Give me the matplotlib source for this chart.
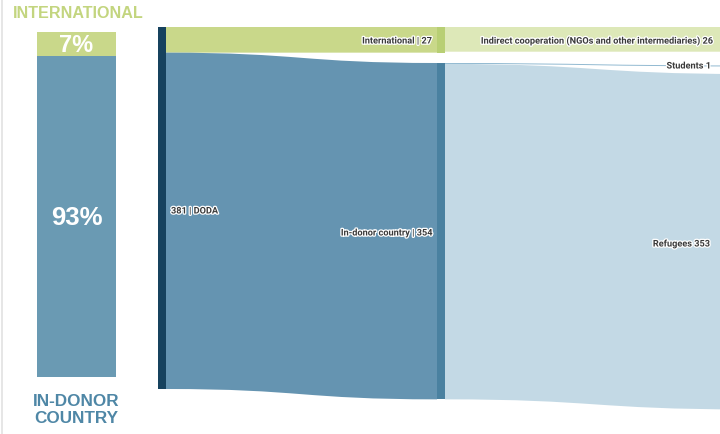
import matplotlib
matplotlib.use('Agg')
import matplotlib.pyplot as plt
from matplotlib.path import Path
from matplotlib.patches import PathPatch, Rectangle
import matplotlib.patheffects as pe

# left summary bar
share_labels = ['INTERNATIONAL', 'IN-DONOR\nCOUNTRY']
share_pct = [7, 93]

# sankey data
source_name = 'DODA'
source_total = 381
mid_names = ['International', 'In-donor country']
mid_values = [27, 354]
end_names = ['Indirect cooperation (NGOs and other intermediaries)', 'Students', 'Refugees']
end_values = [26, 1, 353]
end_parent = [0, 1, 1]

GREEN = '#c9d88a'
BLUE = '#6a9ab3'

fig = plt.figure(figsize=(7.2, 4.34), dpi=100)
ax = fig.add_axes([0, 0, 1, 1])
ax.set_xlim(0, 720)
ax.set_ylim(434, 0)
ax.axis('off')

# thin frame line on the left
ax.plot([2, 2], [0, 434], color='#e2e2e2', lw=1.2)

# ---- left stacked bar ----
bar_x, bar_w, bar_top, bar_h = 37, 79, 32, 345
y = bar_top
bar_colors = [GREEN, BLUE]
for pct, col in zip(share_pct, bar_colors):
    h = bar_h * pct / 100
    ax.add_patch(Rectangle((bar_x, y), bar_w, h, color=col, lw=0))
    ax.text(bar_x + bar_w / 2, y + h / 2 + 1, f'{pct}%', ha='center', va='center',
            color='white', fontsize=17 if pct < 10 else 18.5, fontweight='bold',
            family='Liberation Sans')
    y += h
ax.text(78, 13, share_labels[0], ha='center', va='center',
        color='#c3d57f', fontsize=11.6, fontweight='bold', family='Liberation Sans')
ax.text(bar_x + bar_w / 2, 410, share_labels[1], ha='center', va='center',
        color='#4f87a6', fontsize=12.3, fontweight='bold', family='Liberation Sans',
        linespacing=1.1)

# ---- sankey ----
k = 362 / source_total   # px per unit
node_w = 8
x_src, x_mid, x_end = 158, 437, 745
mid_y0 = [27, 63]
end_y0 = [27, 65.5, 74]
end_colors = ['#dde8b8', '#8fb8d0', '#c3d9e5']
band_colors = [GREEN, '#6594b1']
mid_node_colors = ['#b8cf74', '#4a81a0']

txt_fx = [pe.withStroke(linewidth=1.8, foreground='white')]
lab = dict(fontsize=6.6, fontweight='bold', family='Roboto', color='#3a3a3a',
           path_effects=txt_fx)


def band(x0, x1, t0, b0, t1, b1, color, z=1):
    xm = (x0 + x1) / 2
    verts = [(x0, t0), (xm, t0), (xm, t1), (x1, t1), (x1, b1),
             (xm, b1), (xm, b0), (x0, b0), (x0, t0)]
    codes = [Path.MOVETO, Path.CURVE4, Path.CURVE4, Path.CURVE4, Path.LINETO,
             Path.CURVE4, Path.CURVE4, Path.CURVE4, Path.CLOSEPOLY]
    ax.add_patch(PathPatch(Path(verts, codes), facecolor=color, edgecolor='none', zorder=z))


# source -> mid
s = 27
for i, v in enumerate(mid_values):
    h = v * k
    band(x_src + node_w, x_mid, s, s + h, mid_y0[i], mid_y0[i] + h, band_colors[i])
    s += h
ax.add_patch(Rectangle((x_src, 27), node_w, source_total * k, color='#16425e', lw=0, zorder=3))

# mid -> end
offsets = [mid_y0[0], mid_y0[1]]
for j, v in enumerate(end_values):
    p = end_parent[j]
    h = v * k
    t0 = offsets[p]
    offsets[p] += h
    band(x_mid + node_w, x_end, t0, t0 + h, end_y0[j], end_y0[j] + h, end_colors[j])

for i, v in enumerate(mid_values):
    ax.add_patch(Rectangle((x_mid, mid_y0[i]), node_w, v * k, color=mid_node_colors[i],
                           lw=0, zorder=3))

# labels
ax.text(171, 211, f'{source_total} | {source_name}', ha='left', va='center', zorder=5, **lab)
ax.text(432, 41, f'{mid_names[0]} | {mid_values[0]}', ha='right', va='center', zorder=5, **lab)
ax.text(432, 233, f'{mid_names[1]} | {mid_values[1]}', ha='right', va='center', zorder=5, **lab)
ax.text(713, 41, f'{end_names[0]} {end_values[0]}', ha='right', va='center', zorder=5, **lab)
ax.text(711, 66, f'{end_names[1]} {end_values[1]}', ha='right', va='center', zorder=5, **lab)
ax.text(710, 244, f'{end_names[2]} {end_values[2]}', ha='right', va='center', zorder=5, **lab)

fig.savefig('out.png', dpi=100)
